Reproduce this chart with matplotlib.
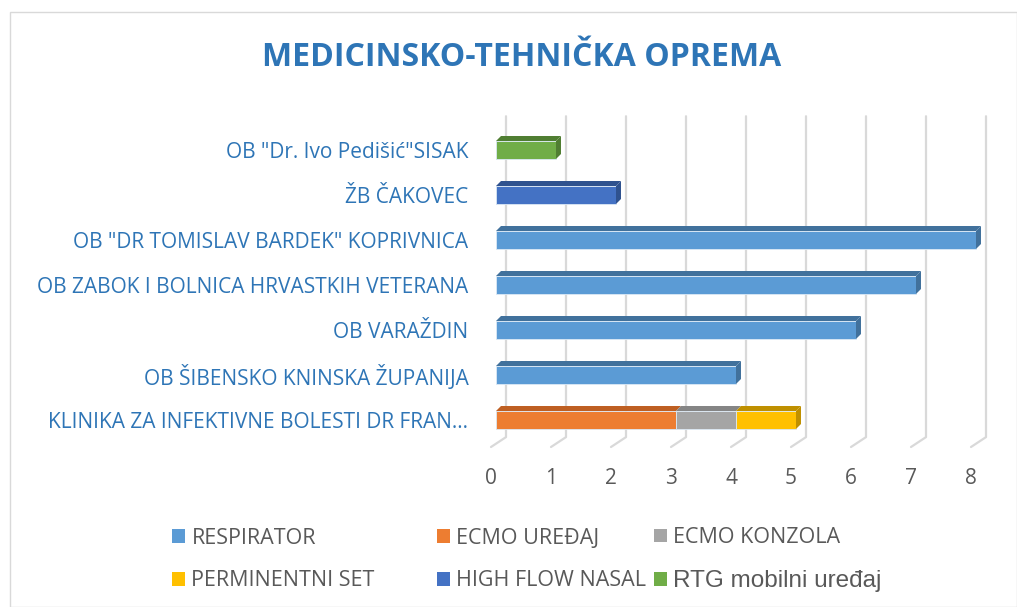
import matplotlib.pyplot as plt
from matplotlib.patches import Polygon, Patch, Rectangle
import numpy as np

# hospitals, bottom to top
bolnice = ['KLINIKA ZA INFEKTIVNE BOLESTI DR FRAN…',
           'OB ŠIBENSKO KNINSKA ŽUPANIJA',
           'OB VARAŽDIN',
           'OB ZABOK I BOLNICA HRVASTKIH VETERANA',
           'OB "DR TOMISLAV BARDEK" KOPRIVNICA',
           'ŽB ČAKOVEC',
           'OB "Dr. Ivo Pedišić"SISAK']

respirator = [0, 4, 6, 7, 8, 0, 0]
ecmo_uredaj = [3, 0, 0, 0, 0, 0, 0]
ecmo_konzola = [1, 0, 0, 0, 0, 0, 0]
perm_set = [1, 0, 0, 0, 0, 0, 0]
high_flow = [0, 0, 0, 0, 0, 2, 0]
rtg = [0, 0, 0, 0, 0, 0, 1]

serije = ['RESPIRATOR', 'ECMO UREĐAJ', 'ECMO KONZOLA',
          'PERMINENTNI SET', 'HIGH FLOW NASAL', 'RTG mobilni uređaj']
vrijednosti = [respirator, ecmo_uredaj, ecmo_konzola, perm_set, high_flow, rtg]
boje = ['#5B9BD5', '#ED7D31', '#A5A5A5', '#FFC000', '#4472C4', '#70AD47']
tamne = ['#41719C', '#BE5F22', '#858585', '#BF9000', '#2F528F', '#507E32']

plt.rcParams['font.family'] = ['Open Sans', 'DejaVu Sans']

W, H = 1017, 607
fig = plt.figure(figsize=(W / 100, H / 100), dpi=100)

# axes placed in pixels: 60 px per unit, x=0 at 496 px; 45 px per row, row 0 at 420 px
xl, xr = -0.25, 8.5
yb, yt = -1.6, 7.0
left_px = 496 + xl * 60
bot_px = 420 - yb * 45
ax = fig.add_axes([left_px / W, 1 - bot_px / H, (xr - xl) * 60 / W, (yt - yb) * 45 / H])
ax.set_xlim(xl, xr)
ax.set_ylim(yb, yt)
for s in ax.spines.values():
    s.set_visible(False)

dx = 5 / 60.0
dy = 5 / 45.0
gx = 10 / 60.0
fx = -5 / 60.0
y_back = -0.38
y_front = -0.6
y_top = 6.75

# gridlines on back wall + floor slant
for k in range(0, 9):
    ax.plot([k + gx, k + gx, k + fx], [y_top, y_back, y_front],
            color='#D9D9D9', lw=1.6, zorder=1, solid_capstyle='round')
    ax.text(k + fx, -1.29, str(k), ha='center', va='center',
            fontsize=15, color='#595959')

y = np.arange(len(bolnice))
h = 0.4
lijevo = np.zeros(len(bolnice))
for vals, c, d in zip(vrijednosti, boje, tamne):
    vals = np.array(vals, dtype=float)
    ax.barh(y, vals, left=lijevo, height=h, color=c, edgecolor='#DCE9F5',
            linewidth=0.6, zorder=3)
    for i in range(len(y)):
        if vals[i] <= 0:
            continue
        l, r = lijevo[i], lijevo[i] + vals[i]
        top = [(l, y[i] + h / 2), (r, y[i] + h / 2),
               (r + dx, y[i] + h / 2 + dy), (l + dx, y[i] + h / 2 + dy)]
        ax.add_patch(Polygon(top, closed=True, color=d, zorder=2, lw=0))
    lijevo = lijevo + vals

# right-hand side faces of each bar stack
for i in range(len(y)):
    r = lijevo[i]
    zadnja = [j for j, v in enumerate(vrijednosti) if v[i] > 0][-1]
    side = [(r, y[i] - h / 2), (r, y[i] + h / 2),
            (r + dx, y[i] + h / 2 + dy), (r + dx, y[i] - h / 2 + dy)]
    ax.add_patch(Polygon(side, closed=True, color=tamne[zadnja], zorder=4, lw=0))

ax.set_xticks([])
ax.set_yticks(y)
ax.set_yticklabels(bolnice, fontsize=15, color='#2E75B6')
ax.tick_params(axis='y', length=0, pad=9)

fig.text(522 / W, 1 - 57 / H, 'MEDICINSKO-TEHNIČKA OPREMA', ha='center', va='center',
         fontsize=23, fontweight='bold', color='#2E75B6')

# legend: one small legend per column so columns sit where they do in the original
kol_x = [172, 437, 654]
for c in range(3):
    idx = [c, c + 3]
    ruke = [Patch(facecolor=boje[j], edgecolor='none') for j in idx]
    leg = fig.legend(ruke, [serije[j] for j in idx], loc='center left',
                     bbox_to_anchor=(kol_x[c] / W, 1 - 559.5 / H),
                     frameon=False, fontsize=15.5, handlelength=0.6, handleheight=0.6,
                     handletextpad=0.3, labelspacing=1.0, borderpad=0, borderaxespad=0)
    for t in leg.get_texts():
        t.set_color('#595959')
        if t.get_text().startswith('RTG'):
            t.set_fontsize(17.5)
            t.set_fontfamily(['Liberation Sans', 'DejaVu Sans'])

fig.patches.append(Rectangle((10 / W, 0), 1 - 10 / W - 0.5 / W, 1 - 12 / H,
                             transform=fig.transFigure, fill=False,
                             edgecolor='#D9D9D9', lw=1))

fig.savefig('out.png', dpi=100)
